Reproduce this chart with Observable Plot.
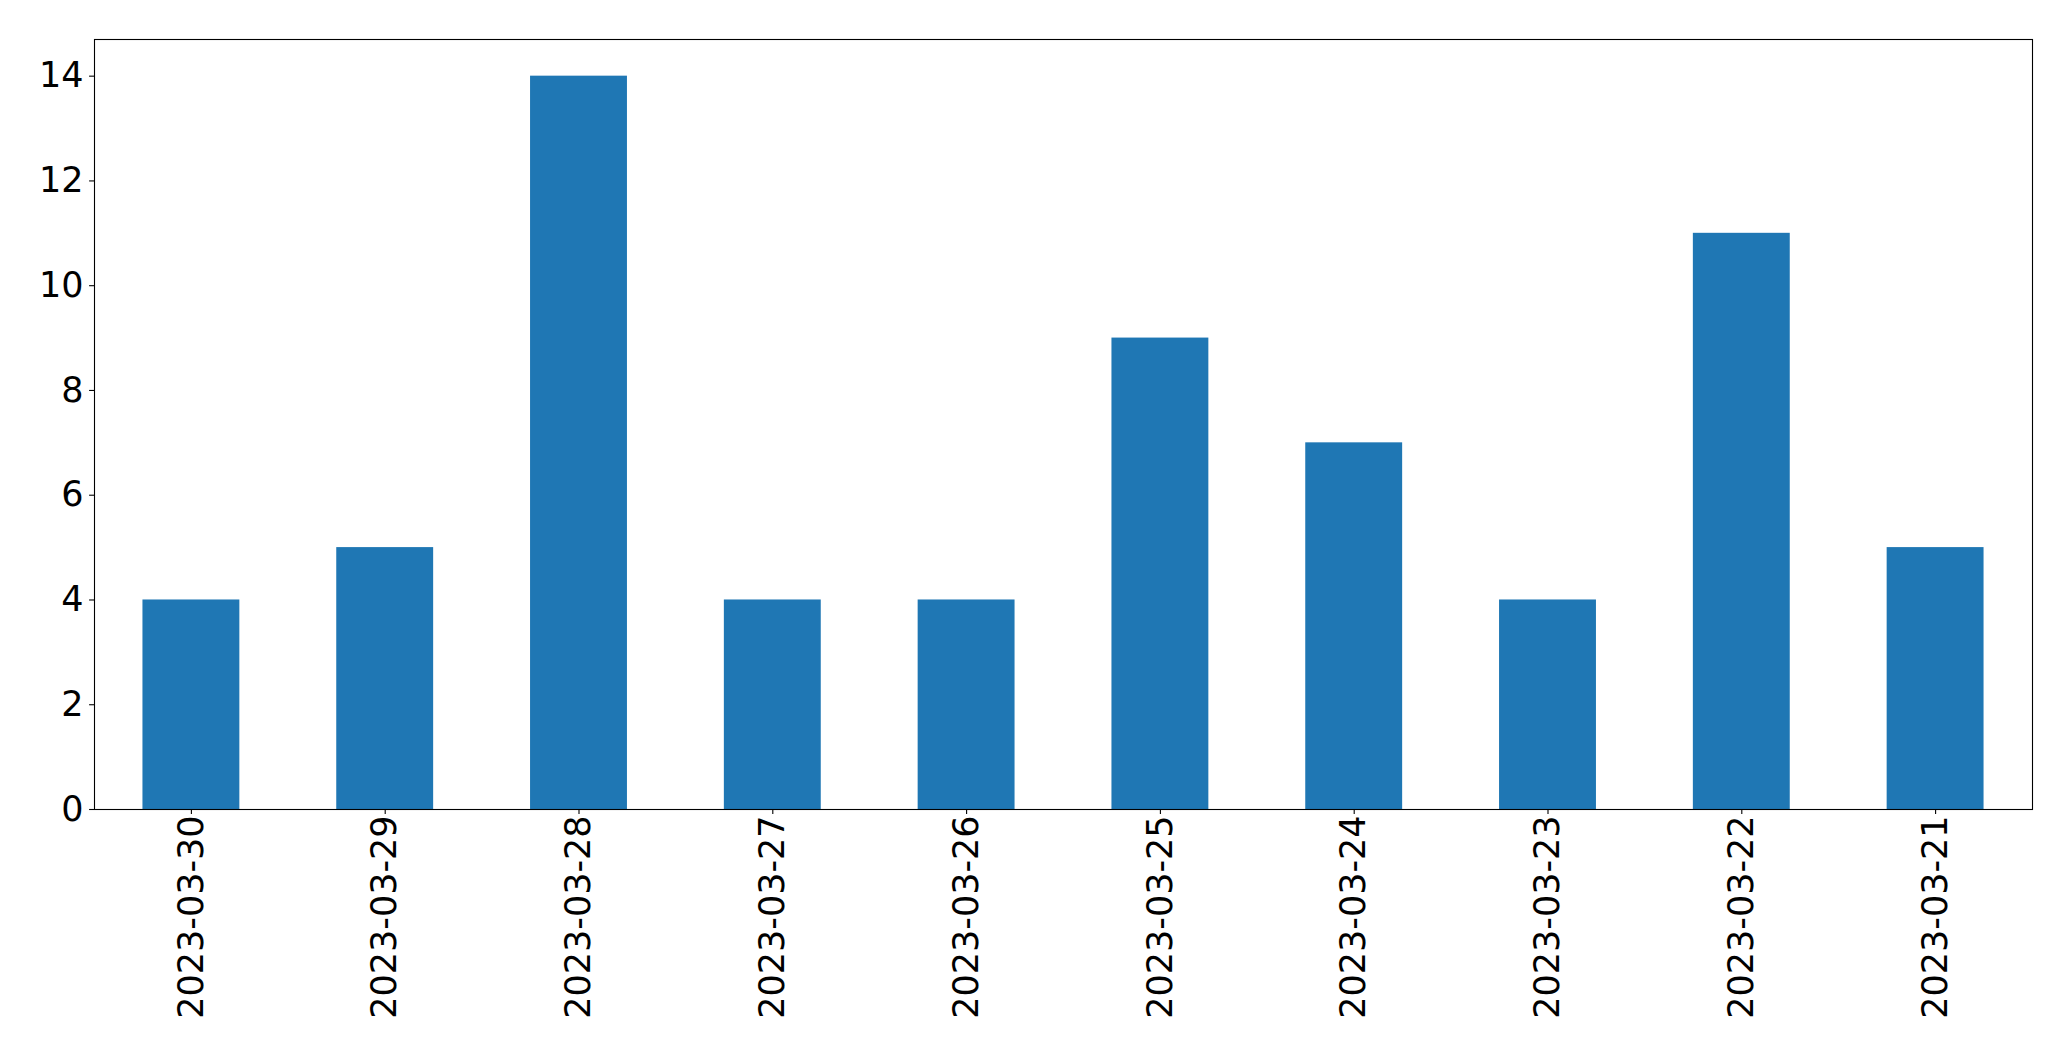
<!DOCTYPE html>
<html>
<head>
<meta charset="utf-8">
<script src="https://cdn.jsdelivr.net/npm/d3@7"></script>
<script src="https://cdn.jsdelivr.net/npm/@observablehq/plot@0.6"></script>
<style>
  html, body { margin: 0; padding: 0; background: #fff; }
  #chart svg { display: block; }
</style>
</head>
<body>
<div id="chart"></div>
<script>
const dates = ["2023-03-30","2023-03-29","2023-03-28","2023-03-27","2023-03-26","2023-03-25","2023-03-24","2023-03-23","2023-03-22","2023-03-21"];
const counts = [4, 5, 14, 4, 4, 9, 7, 4, 11, 5];
const yTicks = [0, 2, 4, 6, 8, 10, 12, 14];

const data = dates.map((d, i) => ({date: d, count: counts[i]}));

const FS = 35;
const chart = Plot.plot({
  width: 2071,
  height: 1061,
  marginLeft: 94,
  marginRight: 39,
  marginTop: 39,
  marginBottom: 252,
  style: {fontFamily: "DejaVu Sans", fontSize: FS + "px", color: "#000", background: "#fff"},
  x: {domain: dates, paddingInner: 0.5, paddingOuter: 0.25, round: false, label: null},
  y: {domain: [0, 14.7], label: null},
  marks: [
    Plot.barY(data, {x: "date", y: "count", fill: "#1f77b4"}),
    Plot.axisY({ticks: yTicks, tickSize: 4.9, tickPadding: 6, label: null, fontSize: FS, stroke: "#000", strokeWidth: 1.1, color: "#000"}),
    Plot.axisX({tickRotate: -90, tickSize: 4.9, tickPadding: 1, label: null, fontSize: FS, stroke: "#000", strokeWidth: 1.1}),
    Plot.frame({stroke: "#000", strokeWidth: 1.1})
  ]
});
document.getElementById("chart").appendChild(chart);
</script>
</body>
</html>
